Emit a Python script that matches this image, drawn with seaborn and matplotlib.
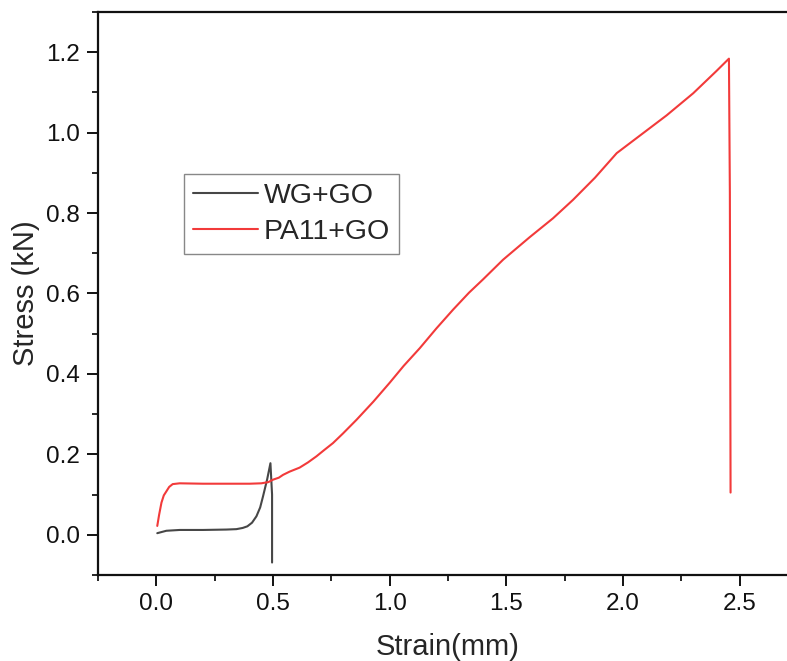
import numpy as np
import pandas as pd
import matplotlib
matplotlib.use('Agg')
import matplotlib.pyplot as plt
import seaborn as sns
from matplotlib.ticker import MultipleLocator

sns.set_style("ticks")
plt.rcParams['font.family'] = ['Liberation Sans', 'DejaVu Sans']

# WG+GO curve
wg_strain = [0.004, 0.043, 0.10, 0.20, 0.30, 0.343, 0.37, 0.39, 0.41, 0.429, 0.445, 0.457, 0.475, 0.489, 0.496, 0.496]
wg_stress = [0.004, 0.010, 0.012, 0.012, 0.013, 0.014, 0.017, 0.021, 0.030, 0.046, 0.068, 0.095, 0.138, 0.178, 0.10, -0.069]

# PA11+GO curve
pa_strain = [0.004, 0.012, 0.022, 0.032, 0.043, 0.055, 0.07, 0.10, 0.20, 0.30, 0.40, 0.45, 0.48, 0.50,
             0.525, 0.543, 0.571, 0.614, 0.65, 0.686, 0.72, 0.757, 0.80, 0.858, 0.93, 1.0, 1.06, 1.129,
             1.20, 1.272, 1.34, 1.40, 1.486, 1.60, 1.70, 1.786, 1.88, 1.973, 2.08, 2.187, 2.301,
             2.40, 2.454, 2.458, 2.461]
pa_stress = [0.022, 0.050, 0.080, 0.098, 0.108, 0.119, 0.126, 0.128, 0.127, 0.127, 0.127, 0.128, 0.131, 0.137,
             0.142, 0.149, 0.157, 0.167, 0.180, 0.195, 0.211, 0.228, 0.252, 0.286, 0.331, 0.378, 0.420, 0.464,
             0.513, 0.560, 0.602, 0.635, 0.684, 0.740, 0.787, 0.833, 0.888, 0.949, 0.996, 1.043, 1.098,
             1.153, 1.184, 0.85, 0.105]

df = pd.concat([
    pd.DataFrame({'Strain': wg_strain, 'Stress': wg_stress, 'Sample': 'WG+GO'}),
    pd.DataFrame({'Strain': pa_strain, 'Stress': pa_stress, 'Sample': 'PA11+GO'}),
])

fig = plt.figure(figsize=(7.87, 6.61), dpi=100)
ax = fig.add_axes([98 / 787, 86 / 661, 700 / 787, 563 / 661])

sns.lineplot(data=df, x='Strain', y='Stress', hue='Sample', sort=False, estimator=None,
             units='Sample', palette={'WG+GO': '#474747', 'PA11+GO': '#f23a3a'},
             linewidth=1.5, ax=ax)

ax.set_xlim(-0.25, 2.75)
ax.set_ylim(-0.1, 1.3)
ax.xaxis.set_minor_locator(MultipleLocator(0.25))
ax.yaxis.set_minor_locator(MultipleLocator(0.1))
ax.set_xticks(np.arange(0, 2.51, 0.5))
ax.set_yticks(np.arange(0, 1.21, 0.2))
ax.xaxis.set_major_formatter(plt.FuncFormatter(lambda v, p: f"{v:.1f}"))
ax.yaxis.set_major_formatter(plt.FuncFormatter(lambda v, p: f"{v:.1f}"))

ax.tick_params(which='major', direction='out', length=8, width=1.4, labelsize=17.5,
               colors='#111111', pad=5)
ax.tick_params(which='minor', direction='out', length=4, width=1.4)
for s in ax.spines.values():
    s.set_linewidth(1.6)
    s.set_color('#111111')

ax.set_xlabel('Strain(mm)', fontsize=21, labelpad=13)
ax.set_ylabel('Stress (kN)', fontsize=21, labelpad=4)

leg = ax.legend(loc='upper left', bbox_to_anchor=(0.123, 0.712), borderaxespad=0,
                fontsize=20.5, handlelength=2.3, fancybox=False, framealpha=1,
                edgecolor='#888888', borderpad=0.3, labelspacing=0.37, handletextpad=0.2)
leg.get_frame().set_linewidth(1.0)

fig.savefig('out.png', dpi=100)
